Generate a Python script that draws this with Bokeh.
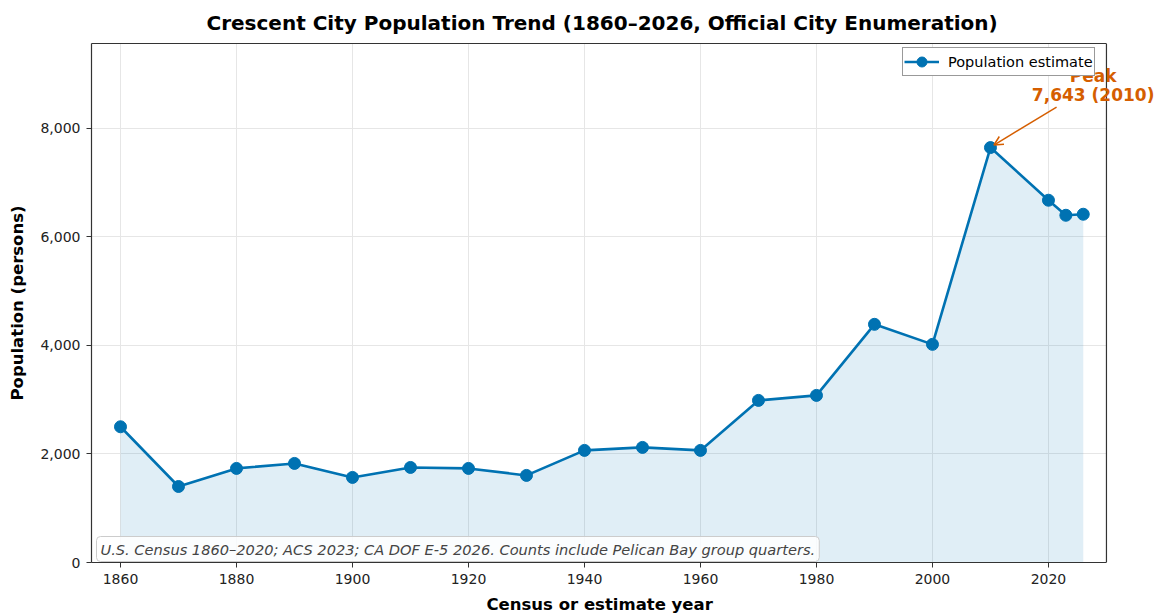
from bokeh.plotting import figure
from bokeh.models import (ColumnDataSource, Range1d, SingleIntervalTicker, NumeralTickFormatter,
                          Legend, LegendItem, Label, Arrow, OpenHead, Span, Title, LinearAxis,
                          FixedTicker)
from bokeh.embed import file_html
from bokeh.resources import INLINE

years = [1860, 1870, 1880, 1890, 1900, 1910, 1920, 1930, 1940, 1950, 1960,
         1970, 1980, 1990, 2000, 2010, 2020, 2023, 2026]
population = [2500, 1400, 1733, 1825, 1567, 1751, 1733, 1604, 2065, 2120, 2065,
              2986, 3078, 4387, 4018, 7643, 6673, 6396, 6415]

peak_year = 2010
peak_value = 7643
title_text = "Crescent City Population Trend (1860\u20132026, Official City Enumeration)"
x_label = "Census or estimate year"
y_label = "Population (persons)"
note_text = "U.S. Census 1860\u20132020; ACS 2023; CA DOF E-5 2026. Counts include Pelican Bay group quarters."

X_MIN, X_MAX = 1855, 2030      # visible axes box
Y_MIN, Y_MAX = 0, 9560

FONT = "DejaVu Sans"
BLUE = "#0072B2"
ORANGE = "#D55E00"
DARK = "#333333"

src = ColumnDataSource(dict(year=years, pop=population))

# frame is wider than the axes box so the peak annotation can overflow to the right
p = figure(frame_width=1066, frame_height=519, output_backend="svg", toolbar_location=None,
           x_range=Range1d(X_MIN, 2038.8), y_range=Range1d(Y_MIN, Y_MAX),
           min_border_left=91, min_border_top=0, min_border_right=0, min_border_bottom=2)

p.title.text = title_text
p.title.text_font = FONT
p.title.text_font_size = "20px"
p.title.text_font_style = "bold"
p.title.align = "left"
p.title.offset = 115
p.title.text_color = "#000000"
p.title.standoff = 17

p.outline_line_color = None
p.background_fill_color = "white"
p.border_fill_color = "white"

for ax in (p.xaxis[0], p.yaxis[0]):
    ax.axis_line_color = DARK
    ax.axis_line_width = 1.2
    ax.major_tick_line_color = DARK
    ax.major_tick_out = 5
    ax.major_tick_in = 0
    ax.minor_tick_line_color = None
    ax.major_label_text_font = FONT
    ax.major_label_text_font_size = "14px"
    ax.major_label_text_color = "#222222"
    ax.axis_label_text_font = FONT
    ax.axis_label_text_font_size = "16.5px"
    ax.axis_label_text_font_style = "bold"
    ax.axis_label_text_color = "#000000"

p.xaxis.bounds = (X_MIN, X_MAX)
p.xaxis.ticker = SingleIntervalTicker(interval=20)
p.yaxis.ticker = SingleIntervalTicker(interval=2000)
p.yaxis.formatter = NumeralTickFormatter(format="0,0")
p.yaxis.axis_label = y_label
p.xaxis.major_label_standoff = 6
p.yaxis.major_label_standoff = 6
p.yaxis.axis_label_standoff = 10

# top edge of the axes box
top_axis = LinearAxis(bounds=(X_MIN, X_MAX), axis_line_color=DARK, axis_line_width=1.2,
                      ticker=FixedTicker(ticks=[]),
                      major_tick_line_color=None, minor_tick_line_color=None,
                      major_label_standoff=0)
p.add_layout(top_axis, "above")
# right edge of the axes box
p.add_layout(Span(location=X_MAX, dimension="height", line_color=DARK, line_width=1.2))

# x-axis title, centred under the axes box
p.add_layout(Title(text=x_label, align="left", offset=395, text_font=FONT,
                   text_font_size="16.5px", text_font_style="bold", text_color="#000000",
                   standoff=12), "below")

p.xgrid.grid_line_color = "#e6e6e6"
p.ygrid.grid_line_color = "#e6e6e6"
p.xgrid.grid_line_width = 1
p.ygrid.grid_line_width = 1
p.ygrid.cross_bounds = (X_MIN, X_MAX)

p.varea(x="year", y1=0, y2="pop", source=src, fill_color=BLUE, fill_alpha=0.12)
line_r = p.line(x="year", y="pop", source=src, line_color=BLUE, line_width=2.6)
circ_r = p.scatter(x="year", y="pop", source=src, size=12, fill_color=BLUE, line_color=BLUE)

p.add_layout(Arrow(end=OpenHead(size=9, line_color=ORANGE, line_width=1.5),
                   x_start=2021.4, y_start=8387, x_end=2010.6, y_end=7690,
                   line_color=ORANGE, line_width=1.5))
p.add_layout(Label(x=2027.7, y=8960, text="Peak", text_align="center", text_baseline="middle",
                   text_font=FONT, text_font_size="17px", text_font_style="bold", text_color=ORANGE))
p.add_layout(Label(x=2027.7, y=8610, text=f"{peak_value:,} ({peak_year})", text_align="center",
                   text_baseline="middle", text_font=FONT, text_font_size="17px",
                   text_font_style="bold", text_color=ORANGE))

p.add_layout(Label(x=5, y=1, x_units="screen", y_units="screen", text=note_text,
                   text_align="left", text_baseline="bottom", text_font=FONT,
                   text_font_size="14.6px", text_font_style="italic", text_color="#444444",
                   background_fill_color="white", background_fill_alpha=0.85,
                   border_line_color="#cccccc", border_line_width=1, padding=4, border_radius=4))

legend = Legend(items=[LegendItem(label="Population estimate", renderers=[line_r, circ_r])],
                location=(811, 486), margin=0, padding=1, spacing=0,
                label_text_font=FONT, label_text_font_size="14.5px", label_text_color="#000000",
                border_line_color=DARK, border_line_width=1,
                background_fill_color="white", background_fill_alpha=1.0,
                glyph_width=35, glyph_height=25, label_height=25, label_standoff=9)
p.add_layout(legend)

open("out.html", "w").write(file_html(p, INLINE))
